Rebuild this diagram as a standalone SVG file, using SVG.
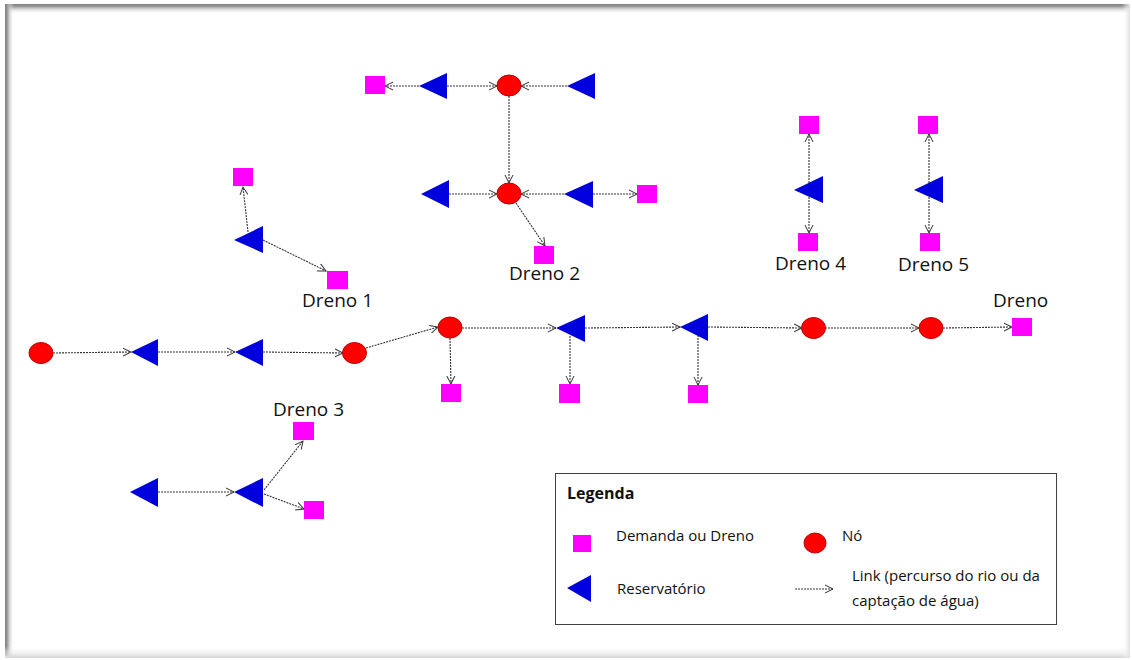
<svg xmlns="http://www.w3.org/2000/svg" width="1132" height="660" viewBox="0 0 1132 660">
<defs>
<linearGradient id="gTop" x1="0" y1="0" x2="0" y2="1"><stop offset="0" stop-color="#7f7f7f"/><stop offset="0.25" stop-color="#9a9a9a"/><stop offset="1" stop-color="#ffffff" stop-opacity="0"/></linearGradient>
<linearGradient id="gLeft" x1="0" y1="0" x2="1" y2="0"><stop offset="0" stop-color="#7f7f7f"/><stop offset="0.25" stop-color="#9a9a9a"/><stop offset="1" stop-color="#ffffff" stop-opacity="0"/></linearGradient>
<linearGradient id="gBot" x1="0" y1="0" x2="0" y2="1"><stop offset="0" stop-color="#ffffff" stop-opacity="0"/><stop offset="1" stop-color="#d4d4d4"/></linearGradient>
<linearGradient id="gRight" x1="0" y1="0" x2="1" y2="0"><stop offset="0" stop-color="#ffffff" stop-opacity="0"/><stop offset="1" stop-color="#e0e0e0"/></linearGradient>
<marker id="arr" markerUnits="userSpaceOnUse" markerWidth="10" markerHeight="10" refX="8" refY="4" orient="auto" viewBox="0 0 10 8">
<path d="M0,0 L8,4 L0,8" fill="none" stroke="#333" stroke-width="1"/>
</marker>
</defs>
<style>
.sq{fill:#ff00ff}
.tri{fill:#0000dd}
.nd{fill:#ff0000;stroke:#c00000;stroke-width:1}
.lk{stroke:#333;stroke-width:1.1;stroke-dasharray:2 1;fill:none;marker-end:url(#arr)}
.lbl{font-family:"Open Sans","Noto Sans","Liberation Sans",sans-serif;font-size:19px;fill:#111}
.lg{font-family:"Open Sans","Noto Sans","Liberation Sans",sans-serif;font-size:15px;fill:#111}
.lgt{font-family:"Open Sans","Noto Sans","Liberation Sans",sans-serif;font-size:16px;font-weight:bold;fill:#111}
</style>
<rect x="0" y="0" width="1132" height="660" fill="#ffffff"/>
<g id="frame">
<rect x="5" y="4" width="1125" height="10" fill="url(#gTop)"/>
<rect x="5" y="4" width="9" height="652" fill="url(#gLeft)"/>
<rect x="5" y="646" width="1125" height="12" fill="url(#gBot)"/>
<rect x="1122" y="4" width="8" height="654" fill="url(#gRight)"/>
</g>
<g id="connectors">
<line class="lk" x1="419" y1="86" x2="385" y2="86"/>
<line class="lk" x1="447" y1="86" x2="497" y2="86"/>
<line class="lk" x1="567" y1="86" x2="521" y2="86"/>
<line class="lk" x1="509" y1="96" x2="509" y2="183"/>
<line class="lk" x1="449" y1="194" x2="497" y2="194"/>
<line class="lk" x1="564" y1="194" x2="521" y2="194"/>
<line class="lk" x1="593" y1="194" x2="637" y2="194"/>
<line class="lk" x1="516" y1="203" x2="545" y2="246"/>
<line class="lk" x1="248" y1="232" x2="243" y2="187"/>
<line class="lk" x1="263" y1="240" x2="326" y2="271"/>
<line class="lk" x1="53" y1="353" x2="131" y2="352"/>
<line class="lk" x1="158" y1="352" x2="235" y2="352"/>
<line class="lk" x1="263" y1="352" x2="343" y2="353"/>
<line class="lk" x1="366" y1="348" x2="438" y2="327"/>
<line class="lk" x1="450" y1="338" x2="451" y2="384"/>
<line class="lk" x1="462" y1="328" x2="556" y2="328"/>
<line class="lk" x1="585" y1="328" x2="680" y2="327"/>
<line class="lk" x1="570" y1="336" x2="570" y2="384"/>
<line class="lk" x1="698" y1="335" x2="698" y2="385"/>
<line class="lk" x1="708" y1="327" x2="802" y2="328"/>
<line class="lk" x1="825" y1="328" x2="919" y2="328"/>
<line class="lk" x1="943" y1="328" x2="1012" y2="327"/>
<line class="lk" x1="158" y1="492" x2="234" y2="492"/>
<line class="lk" x1="264" y1="490" x2="303" y2="441"/>
<line class="lk" x1="264" y1="494" x2="304" y2="509"/>
<line class="lk" x1="809" y1="183" x2="809" y2="134"/>
<line class="lk" x1="809" y1="197" x2="809" y2="233"/>
<line class="lk" x1="929" y1="183" x2="929" y2="134"/>
<line class="lk" x1="929" y1="197" x2="929" y2="233"/>
</g>
<g id="s1"><rect class="sq" x="365" y="76" width="20" height="18"/></g>
<g id="s2"><rect class="sq" x="637" y="185" width="20" height="18"/></g>
<g id="s3"><rect class="sq" x="534" y="246" width="20" height="18"/><text class="lbl" x="509" y="280">Dreno 2</text></g>
<g id="s4"><rect class="sq" x="233" y="168" width="20" height="18"/></g>
<g id="s5"><rect class="sq" x="327" y="271" width="21" height="18"/><text class="lbl" x="302" y="307">Dreno 1</text></g>
<g id="s6"><rect class="sq" x="441" y="384" width="20" height="18"/></g>
<g id="s7"><rect class="sq" x="559" y="384" width="21" height="19"/></g>
<g id="s8"><rect class="sq" x="688" y="385" width="20" height="18"/></g>
<g id="s9"><rect class="sq" x="1012" y="318" width="20" height="18"/><text class="lbl" x="993" y="307">Dreno</text></g>
<g id="s10"><rect class="sq" x="293" y="422" width="21" height="18"/><text class="lbl" x="273" y="416">Dreno 3</text></g>
<g id="s11"><rect class="sq" x="304" y="501" width="20" height="18"/></g>
<g id="s12"><rect class="sq" x="799" y="116" width="20" height="18"/></g>
<g id="s13"><rect class="sq" x="798" y="233" width="20" height="18"/><text class="lbl" x="775" y="270">Dreno 4</text></g>
<g id="s14"><rect class="sq" x="918" y="116" width="20" height="18"/></g>
<g id="s15"><rect class="sq" x="920" y="233" width="20" height="18"/><text class="lbl" x="898" y="271">Dreno 5</text></g>
<g id="t1"><polygon class="tri" points="419,86 447,73 447,99"/></g>
<g id="t2"><polygon class="tri" points="567,86 595,73 595,99"/></g>
<g id="t3"><polygon class="tri" points="421,194 449,180 449,208"/></g>
<g id="t4"><polygon class="tri" points="564,194 593,181 593,208"/></g>
<g id="t5"><polygon class="tri" points="234,240 263,226 263,253"/></g>
<g id="t6"><polygon class="tri" points="131,352 158,339 158,366"/></g>
<g id="t7"><polygon class="tri" points="235,352 263,339 263,366"/></g>
<g id="t8"><polygon class="tri" points="556,328 585,315 585,342"/></g>
<g id="t9"><polygon class="tri" points="680,327 708,314 708,341"/></g>
<g id="t10"><polygon class="tri" points="130,492 158,478 158,507"/></g>
<g id="t11"><polygon class="tri" points="234,492 263,478 263,507"/></g>
<g id="t12"><polygon class="tri" points="794,190 823,176 823,203"/></g>
<g id="t13"><polygon class="tri" points="914,190 943,176 943,203"/></g>
<g id="c1"><ellipse class="nd" cx="509" cy="85.5" rx="12" ry="10.5"/></g>
<g id="c2"><ellipse class="nd" cx="509" cy="193.5" rx="12" ry="10.5"/></g>
<g id="c3"><ellipse class="nd" cx="41" cy="353" rx="12" ry="10.5"/></g>
<g id="c4"><ellipse class="nd" cx="354.5" cy="353" rx="12" ry="10.5"/></g>
<g id="c5"><ellipse class="nd" cx="450" cy="327.5" rx="12" ry="10.5"/></g>
<g id="c6"><ellipse class="nd" cx="813.5" cy="328" rx="12" ry="10.5"/></g>
<g id="c7"><ellipse class="nd" cx="931" cy="328" rx="12" ry="10.5"/></g>
<g id="legend">
<rect x="555.5" y="473.5" width="501" height="151" fill="#ffffff" stroke="#404040" stroke-width="1"/>
<text class="lgt" x="567" y="499">Legenda</text>
<rect class="sq" x="573" y="535" width="18" height="17"/>
<text class="lg" x="616" y="541">Demanda ou Dreno</text>
<ellipse class="nd" cx="815" cy="543" rx="11" ry="10"/>
<text class="lg" x="842" y="541">Nó</text>
<polygon class="tri" points="567,588 591,575 591,602"/>
<text class="lg" x="617" y="594">Reservatório</text>
<line class="lk" x1="795" y1="589" x2="833" y2="589"/>
<text class="lg" x="852" y="581">Link (percurso do rio ou da</text>
<text class="lg" x="852" y="606">captação de água)</text>
</g>
</svg>
